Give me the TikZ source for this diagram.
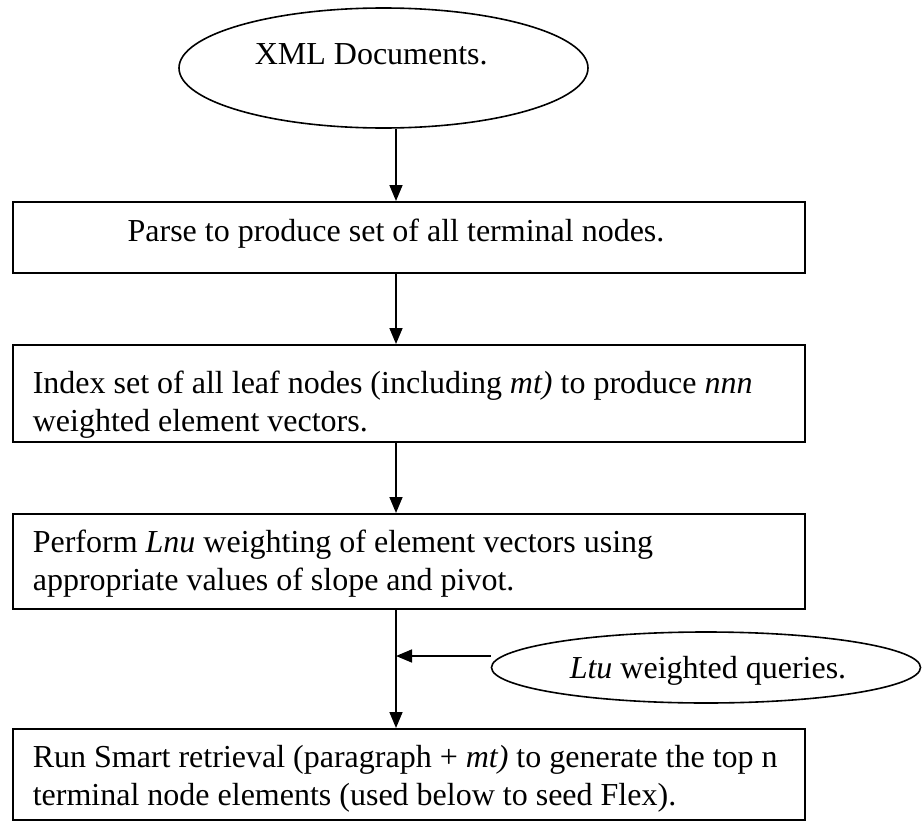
\documentclass[tikz,border=0pt]{standalone}
\usepackage{fontspec}
\setmainfont{Liberation Serif}
\usetikzlibrary{arrows.meta,shapes.geometric}
\begin{document}
\begin{tikzpicture}[x=1pt,y=-1pt,
  line width=1.6pt,
  font=\fontsize{32}{38}\selectfont,
  boxshape/.style={draw,rectangle,inner sep=0pt,anchor=north west},
  ovalshape/.style={draw,ellipse,inner sep=0pt},
  txt/.style={inner sep=0pt,anchor=base west},
  arr/.style={-{Triangle[length=16pt,width=13pt]}}]
\useasboundingbox (0,0) rectangle (922,822);
% ellipses
\node[ovalshape,minimum width=409pt,minimum height=120pt] (xml) at (383.5,68) {};
\node[txt] (xmlt) at (254,64) {XML Documents.};
\node[ovalshape,minimum width=429pt,minimum height=71pt] (lq) at (706,667.5) {};
\node[txt] (lqt) at (569,678) {\itshape Ltu\upshape{} weighted queries.};
% boxes
\node[boxshape,minimum width=792pt,minimum height=71pt] (b1) at (12,201) {};
\node[inner sep=0pt,anchor=base] (b1t) at (396,241) {Parse to produce set of all terminal nodes.};
\node[boxshape,minimum width=792pt,minimum height=97pt] (b2) at (12,344) {};
\node[txt] (b2a) at (32,393) {Index set of all leaf nodes (including \textit{mt)} to produce \textit{nnn}};
\node[txt] (b2b) at (32,431) {weighted element vectors.};
\node[boxshape,minimum width=792pt,minimum height=95pt] (b3) at (12,513) {};
\node[txt] (b3a) at (32,552) {Perform \textit{Lnu} weighting of element vectors using};
\node[txt] (b3b) at (32,590) {appropriate values of slope and pivot.};
\node[boxshape,minimum width=792pt,minimum height=91pt] (b4) at (12,728) {};
\node[txt] (b4a) at (32,767) {Run Smart retrieval (paragraph + \textit{mt)} to generate the top n};
\node[txt] (b4b) at (32,805) {terminal node elements (used below to seed Flex).};
% spine
\coordinate (sp) at (396,0);
\coordinate (jn) at (396,656);
\draw[arr] (xml.south -| sp) -- (b1.north -| sp);
\draw[arr] (b1.south -| sp) -- (b2.north -| sp);
\draw[arr] (b2.south -| sp) -- (b3.north -| sp);
\draw[arr] (b3.south -| sp) -- (b4.north -| sp);
\draw[arr] ([yshift=11.5pt]lq.west) -- (jn);
\end{tikzpicture}
\end{document}
